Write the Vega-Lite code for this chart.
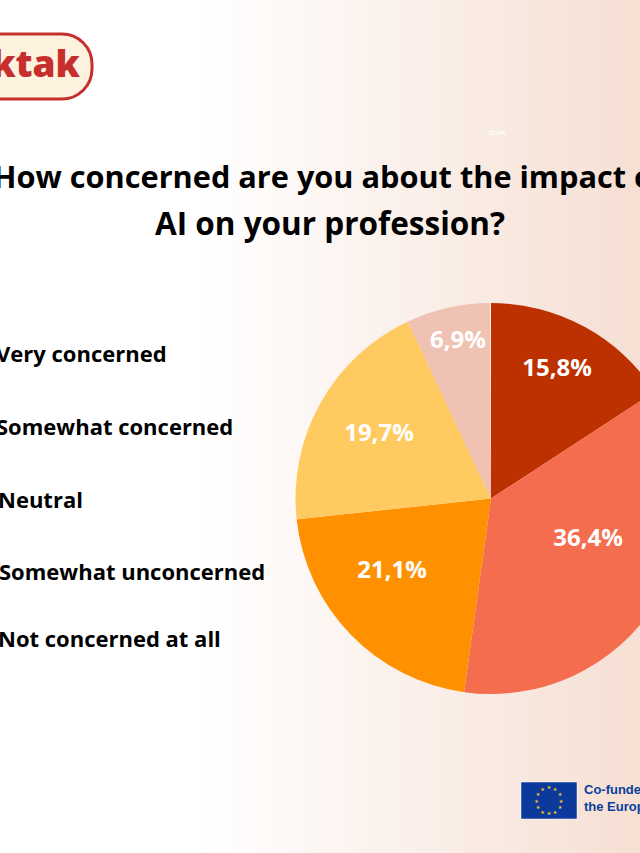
{"$schema":"https://vega.github.io/schema/vega-lite/v6.json","width":640,"height":853,"padding":0,"autosize":"none","background":"#ffffff","config":{"view":{"stroke":null},"axis":{"domain":false}},"datasets":{"pie":[{"category":"Very concerned","rank":1,"value":15.8,"label":"15,8%"},{"category":"Somewhat concerned","rank":2,"value":36.4,"label":"36,4%"},{"category":"Neutral","rank":3,"value":21.1,"label":"21,1%"},{"category":"Somewhat unconcerned","rank":4,"value":19.7,"label":"19,7%"},{"category":"Not concerned at all","rank":5,"value":6.9,"label":"6,9%"}],"one":[{"k":1}],"stars":[{"sx":549,"sy":787},{"sx":555,"sy":789},{"sx":560,"sy":794},{"sx":561,"sy":800.5},{"sx":560,"sy":807},{"sx":555,"sy":811.5},{"sx":549,"sy":813},{"sx":542.5,"sy":811.5},{"sx":538,"sy":807},{"sx":536.5,"sy":800.5},{"sx":538,"sy":794},{"sx":542.5,"sy":789}]},"resolve":{"scale":{"x":"independent","y":"independent","color":"independent","theta":"independent"},"axis":{"x":"independent","y":"independent"}},"layer":[{"data":{"name":"one"},"mark":{"type":"rect","fill":{"gradient":"linear","x1":0,"y1":0,"x2":1,"y2":0,"stops":[{"offset":0,"color":"#ffffff"},{"offset":0.32,"color":"#ffffff"},{"offset":1,"color":"#f6dfd3"}]}},"encoding":{"x":{"datum":0,"type":"quantitative","axis":null,"scale":{"domain":[0,640],"range":[0,640]}},"x2":{"datum":640},"y":{"datum":0,"type":"quantitative","axis":null,"scale":{"domain":[0,853],"range":[0,853]}},"y2":{"datum":853}}},{"data":{"name":"pie"},"mark":{"type":"arc","outerRadius":195.5,"innerRadius":0},"encoding":{"x":{"datum":491,"type":"quantitative","axis":null,"scale":{"domain":[0,640],"range":[0,640]}},"y":{"datum":498.5,"type":"quantitative","axis":null,"scale":{"domain":[0,853],"range":[0,853]}},"theta":{"field":"value","type":"quantitative","stack":true,"scale":{"domain":[0,100],"range":[0,6.2832]}},"order":{"field":"rank"},"color":{"field":"category","type":"nominal","legend":null,"scale":{"domain":["Very concerned","Somewhat concerned","Neutral","Somewhat unconcerned","Not concerned at all"],"range":["#bd3100","#f46d4f","#ff9100","#ffcb60","#f0c2b3"]}}}},{"data":{"name":"pie"},"mark":{"type":"text","font":"Open Sans","fontWeight":700,"fontSize":24,"fill":"#ffffff","align":"center","baseline":"middle"},"encoding":{"x":{"field":"rank","type":"quantitative","axis":null,"scale":{"domain":[1,2,3,4,5],"range":[557,588,392,379,458]}},"y":{"field":"rank","type":"quantitative","axis":null,"scale":{"domain":[1,2,3,4,5],"range":[369,539,571,434,341]}},"text":{"field":"label"}}},{"data":{"name":"pie"},"mark":{"type":"text","font":"Open Sans","fontWeight":700,"fontSize":22,"fill":"#000000","align":"left","baseline":"middle"},"encoding":{"x":{"field":"rank","type":"quantitative","axis":null,"scale":{"domain":[1,2,3,4,5],"range":[-4,-4,-2,-1,-2]}},"y":{"field":"rank","type":"quantitative","axis":null,"scale":{"domain":[1,2,3,4,5],"range":[355,428,501,573,640]}},"text":{"field":"category"}}},{"data":{"values":[{"line":"How concerned are you about the impact of"}]},"mark":{"type":"text","font":"Open Sans","fontWeight":700,"fontSize":30.7,"fill":"#000000","align":"center","baseline":"middle"},"encoding":{"x":{"datum":329,"type":"quantitative","axis":null,"scale":{"domain":[0,640],"range":[0,640]}},"y":{"datum":178.5,"type":"quantitative","axis":null,"scale":{"domain":[0,853],"range":[0,853]}},"text":{"field":"line"}}},{"data":{"values":[{"line":"AI on your profession?"}]},"mark":{"type":"text","font":"Open Sans","fontWeight":700,"fontSize":31.5,"fill":"#000000","align":"center","baseline":"middle"},"encoding":{"x":{"datum":330,"type":"quantitative","axis":null,"scale":{"domain":[0,640],"range":[0,640]}},"y":{"datum":226,"type":"quantitative","axis":null,"scale":{"domain":[0,853],"range":[0,853]}},"text":{"field":"line"}}},{"data":{"values":[{"line":"37,5%"}]},"mark":{"type":"text","font":"Open Sans","fontWeight":700,"fontSize":6,"fill":"#ffffff","align":"center","baseline":"middle"},"encoding":{"x":{"datum":497,"type":"quantitative","axis":null,"scale":{"domain":[0,640],"range":[0,640]}},"y":{"datum":133,"type":"quantitative","axis":null,"scale":{"domain":[0,853],"range":[0,853]}},"text":{"field":"line"}}},{"data":{"name":"one"},"mark":{"type":"rect","fill":"#fdf2dd","stroke":"#c62f2d","strokeWidth":3,"cornerRadius":30},"encoding":{"x":{"datum":-60,"type":"quantitative","axis":null,"scale":{"domain":[0,640],"range":[0,640]}},"x2":{"datum":92},"y":{"datum":34,"type":"quantitative","axis":null,"scale":{"domain":[0,853],"range":[0,853]}},"y2":{"datum":99}}},{"data":{"values":[{"line":"Tiktak"}]},"mark":{"type":"text","font":"Open Sans","fontWeight":800,"fontSize":37,"fill":"#c62f2d","align":"right","baseline":"middle"},"encoding":{"x":{"datum":80,"type":"quantitative","axis":null,"scale":{"domain":[0,640],"range":[0,640]}},"y":{"datum":66,"type":"quantitative","axis":null,"scale":{"domain":[0,853],"range":[0,853]}},"text":{"field":"line"}}},{"data":{"name":"one"},"mark":{"type":"rect","fill":"#0b3a9c","stroke":"#ffffff","strokeWidth":0.5},"encoding":{"x":{"datum":521,"type":"quantitative","axis":null,"scale":{"domain":[0,640],"range":[0,640]}},"x2":{"datum":577},"y":{"datum":782,"type":"quantitative","axis":null,"scale":{"domain":[0,853],"range":[0,853]}},"y2":{"datum":819}}},{"data":{"name":"stars"},"mark":{"type":"text","text":"★","font":"DejaVu Sans","fontSize":5,"fill":"#f5c518","align":"center","baseline":"middle"},"encoding":{"x":{"field":"sx","type":"quantitative","axis":null,"scale":{"domain":[0,640],"range":[0,640]}},"y":{"field":"sy","type":"quantitative","axis":null,"scale":{"domain":[0,853],"range":[0,853]}}}},{"data":{"values":[{"line":"Co-funded by"}]},"mark":{"type":"text","font":"Liberation Sans","fontWeight":700,"fontSize":13,"fill":"#0b3f9c","align":"left","baseline":"middle"},"encoding":{"x":{"datum":584,"type":"quantitative","axis":null,"scale":{"domain":[0,640],"range":[0,640]}},"y":{"datum":790,"type":"quantitative","axis":null,"scale":{"domain":[0,853],"range":[0,853]}},"text":{"field":"line"}}},{"data":{"values":[{"line":"the European Union"}]},"mark":{"type":"text","font":"Liberation Sans","fontWeight":700,"fontSize":13,"fill":"#0b3f9c","align":"left","baseline":"middle"},"encoding":{"x":{"datum":584,"type":"quantitative","axis":null,"scale":{"domain":[0,640],"range":[0,640]}},"y":{"datum":807,"type":"quantitative","axis":null,"scale":{"domain":[0,853],"range":[0,853]}},"text":{"field":"line"}}}]}
